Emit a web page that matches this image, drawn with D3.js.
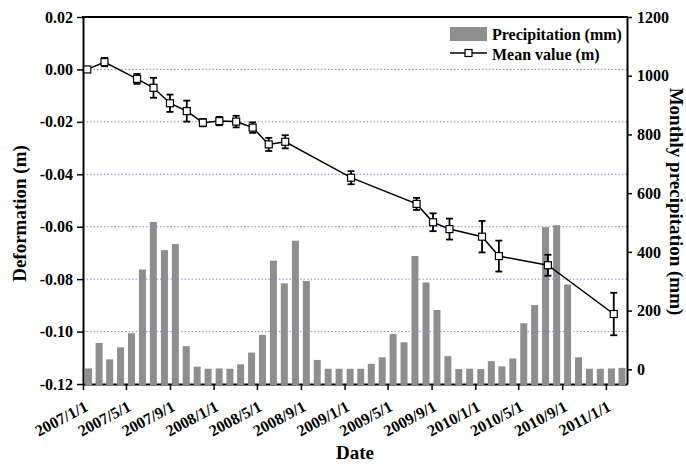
<!DOCTYPE html>
<html><head><meta charset="utf-8">
<script src="https://cdn.jsdelivr.net/npm/d3@7"></script>
<style>
body{margin:0;background:#fff;}
svg{display:block;font-family:"Liberation Serif","Times New Roman",serif;font-weight:bold;}
</style></head>
<body><svg id="chart" width="686" height="464"></svg>
<script>
// ---- data ----
const precipMonths = ["2007-01","2007-02","2007-03","2007-04","2007-05","2007-06","2007-07","2007-08","2007-09","2007-10","2007-11","2007-12",
"2008-01","2008-02","2008-03","2008-04","2008-05","2008-06","2008-07","2008-08","2008-09","2008-10","2008-11","2008-12",
"2009-01","2009-02","2009-03","2009-04","2009-05","2009-06","2009-07","2009-08","2009-09","2009-10","2009-11","2009-12",
"2010-01","2010-02","2010-03","2010-04","2010-05","2010-06","2010-07","2010-08","2010-09","2010-10","2010-11","2010-12",
"2011-01","2011-02"];
const precipValues = [3,90,34,75,123,340,502,406,427,79,9,2,
3,2,17,57,117,370,293,438,301,32,2,2,
2,2,19,41,120,92,386,296,202,45,1,2,
1,28,10,37,157,219,484,491,289,41,2,2,
3,5];
const obsDates = ["2007-01-13","2007-03-02","2007-06-01","2007-07-17","2007-09-01","2007-10-18","2007-12-02","2008-01-17","2008-03-04","2008-04-19","2008-06-03","2008-07-19","2009-01-19","2009-07-21","2009-09-05","2009-10-21","2010-01-20","2010-03-08","2010-07-23","2011-01-23"];
const meanValues = [0.0000,0.0028,-0.0036,-0.0070,-0.0129,-0.0159,-0.0203,-0.0197,-0.0199,-0.0222,-0.0286,-0.0276,-0.0413,-0.0513,-0.0583,-0.0609,-0.0638,-0.0712,-0.0747,-0.0933];
const errValues = [0.0000,0.0016,0.0019,0.0038,0.0033,0.0040,0.0014,0.0016,0.0022,0.0020,0.0025,0.0025,0.0025,0.0023,0.0034,0.0040,0.0060,0.0059,0.0040,0.0081];
const xTickLabels = ["2007/1/1","2007/5/1","2007/9/1","2008/1/1","2008/5/1","2008/9/1","2009/1/1","2009/5/1","2009/9/1","2010/1/1","2010/5/1","2010/9/1","2011/1/1"];
const leftTicks = [0.02,0.00,-0.02,-0.04,-0.06,-0.08,-0.10,-0.12];
const leftTickLabels = ["0.02","0.00","-0.02","-0.04","-0.06","-0.08","-0.10","-0.12"];
const gridTicks = [0.00,-0.02,-0.04,-0.06,-0.08,-0.10];
const rightTicks = [0,200,400,600,800,1000,1200];
const xDomain = ["2007-01-01","2011-03-01"];

// ---- layout ----
const L=83, R=627, T=17, B=384;
const FS = 16;
const parse = d3.timeParse("%Y-%m-%d");
const parseM = d3.timeParse("%Y-%m");
const parseTick = d3.timeParse("%Y/%m/%d");
const svg = d3.select("#chart");

const x = d3.scaleTime().domain(xDomain.map(parse)).range([L,R]);
const yL = d3.scaleLinear().domain([-0.12,0.02]).range([B,T]);
const yR = d3.scaleLinear().domain([-50,1200]).range([B,T]);

// gridlines
svg.append("g").selectAll("line").data(gridTicks).join("line")
  .attr("x1",L).attr("x2",R).attr("y1",d=>yL(d)).attr("y2",d=>yL(d))
  .attr("stroke","#7f86ff").attr("stroke-width",1).attr("stroke-dasharray","1.5,2");

// axes
const tickDates = xTickLabels.map(parseTick);
const gx = svg.append("g").attr("transform",`translate(0,${B})`)
  .call(d3.axisBottom(x).tickValues(tickDates).tickSize(6).tickSizeOuter(0).tickFormat(""));
const gl = svg.append("g").attr("transform",`translate(${L},0)`)
  .call(d3.axisLeft(yL).tickValues(leftTicks).tickSize(6).tickSizeOuter(0).tickPadding(4)
    .tickFormat((d,i)=>leftTickLabels[i]));
const gr = svg.append("g").attr("transform",`translate(${R},0)`)
  .call(d3.axisRight(yR).tickValues(rightTicks).tickSize(5).tickSizeOuter(0).tickPadding(5)
    .tickFormat(d3.format("d")));
[gx,gl,gr].forEach(g=>{
  g.selectAll(".domain").attr("stroke","#000").attr("stroke-width",2);
  g.selectAll(".tick line").attr("stroke","#000").attr("stroke-width",1.5);
  g.selectAll("text").attr("font-family","Liberation Serif, Times New Roman, serif")
   .attr("font-weight","bold").attr("font-size",FS).attr("fill","#000");
});
// top frame
svg.append("line").attr("x1",L-1).attr("x2",R+1).attr("y1",T).attr("y2",T)
  .attr("stroke","#000").attr("stroke-width",2);

// rotated x tick labels
svg.append("g").selectAll("text").data(xTickLabels).join("text")
  .attr("transform",(d,i)=>`translate(${x(tickDates[i])+6},${B+26}) rotate(-28)`)
  .attr("text-anchor","end").attr("font-size",FS).attr("fill","#000").text(d=>d);

// bars
const barW = 7;
svg.append("g").selectAll("rect").data(precipValues).join("rect")
  .attr("x",(d,i)=>{const s=parseM(precipMonths[i]); const e=d3.timeMonth.offset(s,1); return (x(s)+x(e))/2-barW/2;})
  .attr("width",barW)
  .attr("y",d=>yR(d))
  .attr("height",d=>B+1-yR(d))
  .attr("fill","#8e8e8e");

// line
const pts = obsDates.map((d,i)=>({x:x(parse(d)),y:yL(meanValues[i]),e:errValues[i],v:meanValues[i]}));
svg.append("path").datum(pts)
  .attr("d",d3.line().x(d=>d.x).y(d=>d.y))
  .attr("fill","none").attr("stroke","#000").attr("stroke-width",1.5);
// error bars
const eg = svg.append("g").attr("stroke","#000").attr("stroke-width",1.8);
pts.filter(p=>p.e>0).forEach(p=>{
  const y1=yL(p.v+p.e), y2=yL(p.v-p.e);
  eg.append("line").attr("x1",p.x).attr("x2",p.x).attr("y1",y1).attr("y2",y2);
  eg.append("line").attr("x1",p.x-3.5).attr("x2",p.x+3.5).attr("y1",y1).attr("y2",y1);
  eg.append("line").attr("x1",p.x-3.5).attr("x2",p.x+3.5).attr("y1",y2).attr("y2",y2);
});
// markers
svg.append("g").selectAll("rect").data(pts).join("rect")
  .attr("x",d=>d.x-3.5).attr("y",d=>d.y-3.5).attr("width",7).attr("height",7)
  .attr("fill","#fff").attr("stroke","#000").attr("stroke-width",1.2);

// legend
const lg = svg.append("g");
lg.append("rect").attr("x",450).attr("y",27).attr("width",37).attr("height",14).attr("fill","#8e8e8e");
lg.append("text").attr("x",492).attr("y",39.5).attr("font-size",FS).attr("fill","#000").text("Precipitation (mm)");
lg.append("line").attr("x1",450).attr("x2",487).attr("y1",53).attr("y2",53).attr("stroke","#000").attr("stroke-width",1.5);
lg.append("rect").attr("x",465).attr("y",49.5).attr("width",7).attr("height",7).attr("fill","#fff").attr("stroke","#000").attr("stroke-width",1.2);
lg.append("text").attr("x",492).attr("y",59.5).attr("font-size",FS).attr("fill","#000").text("Mean value (m)");

// axis titles
svg.append("text").attr("transform",`translate(26,${(T+B)/2+13}) rotate(-90)`)
  .attr("text-anchor","middle").attr("font-size",19).attr("fill","#000").text("Deformation (m)");
svg.append("text").attr("transform",`translate(670,${(T+B)/2+1}) rotate(90)`)
  .attr("text-anchor","middle").attr("font-size",19).attr("fill","#000").text("Monthly precipitation (mm)");
svg.append("text").attr("x",355).attr("y",459)
  .attr("text-anchor","middle").attr("font-size",19).attr("fill","#000").text("Date");
</script></body></html>
